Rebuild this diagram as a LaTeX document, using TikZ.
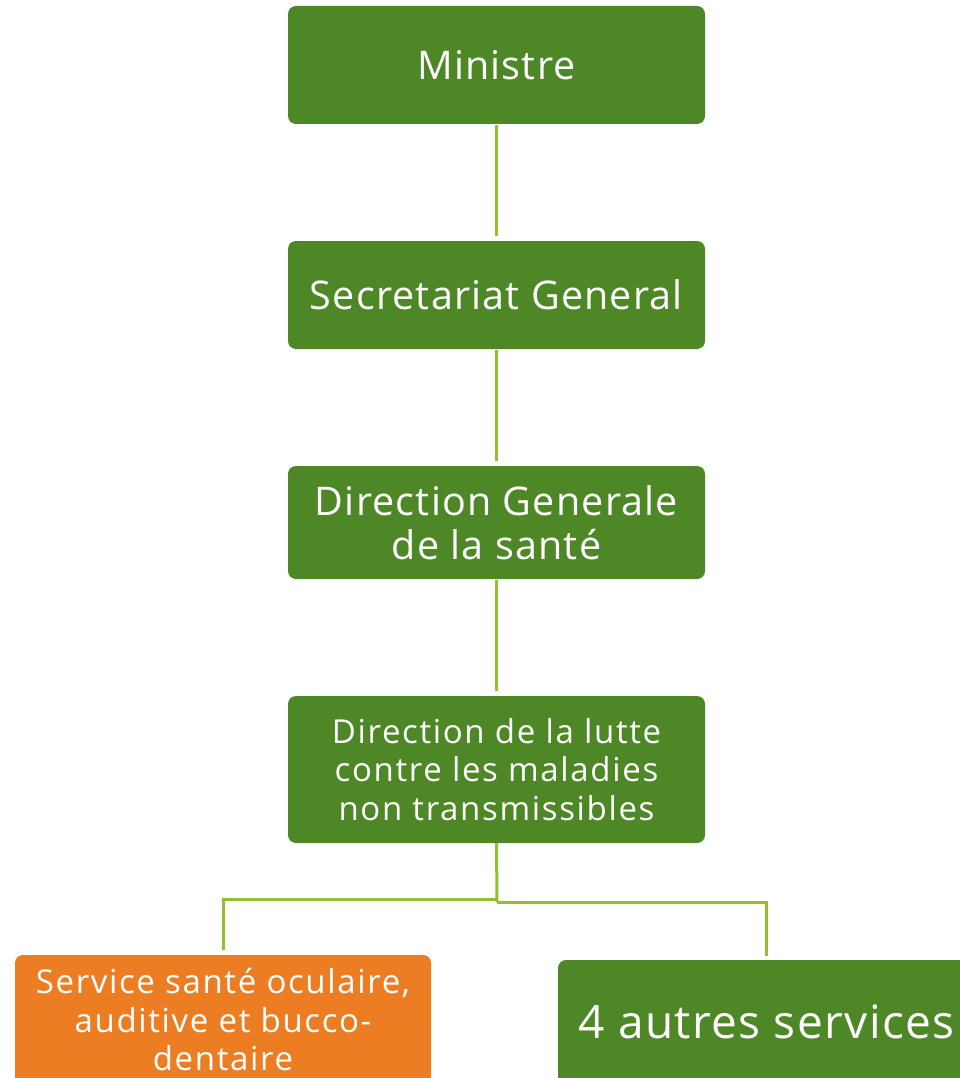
\documentclass[tikz,border=0pt]{standalone}
\usepackage{fontspec}
\setmainfont{Open Sans}
\definecolor{boxgreen}{RGB}{78,136,38}
\definecolor{linegreen}{RGB}{146,192,46}
\definecolor{boxorange}{RGB}{237,125,34}
\begin{document}
\begin{tikzpicture}[x=1pt,y=-1pt,
  box/.style={rectangle, rounded corners=8pt, fill=boxgreen, text=white, inner sep=0pt, align=center, minimum width=417pt},
  obox/.style={box, fill=boxorange},
  bigtext/.style={font=\fontsize{39.5}{44}\selectfont\addfontfeatures{LetterSpace=3}},
  smalltext/.style={font=\fontsize{33}{38.5}\selectfont\addfontfeatures{LetterSpace=5}},
  link/.style={draw=linegreen, line width=3pt}]
\useasboundingbox (0,0) rectangle (959,1078);
\node[box, minimum height=118pt, bigtext] (m) at (496.5,65) {Ministre};
\node[box, minimum height=108pt, bigtext] (s) at (496.5,295) {Secretariat General};
\node[box, minimum height=113pt, bigtext] (g) at (496.5,522.5) {Direction Generale\\de la santé};
\node[box, minimum height=147pt, smalltext] (d) at (496.5,769.5) {Direction de la lutte\\contre les maladies\\non transmissibles};
\node[obox, minimum width=416pt, minimum height=130pt, smalltext] (o) at (223,1020) {Service santé oculaire,\\auditive et bucco-\\dentaire};
\node[box, minimum height=124pt, font=\fontsize{46}{50}\selectfont\addfontfeatures{LetterSpace=3}] (a) at (766.5,1022) {4 autres services};
\coordinate (jl) at (497,899);
\coordinate (jr) at (497,902);
\draw[link, shorten <=1pt, shorten >=5pt] (m.south) -- (s.north);
\draw[link, shorten <=1pt, shorten >=5pt] (s.south) -- (g.north);
\draw[link, shorten <=1pt, shorten >=5pt] (g.south) -- (d.north);
\draw[link] (d.south) -- (jr);
\draw[link, shorten >=5pt] (jl) -| (o.north);
\draw[link, shorten >=4pt] (jr) -| (a.north);
\end{tikzpicture}
\end{document}
